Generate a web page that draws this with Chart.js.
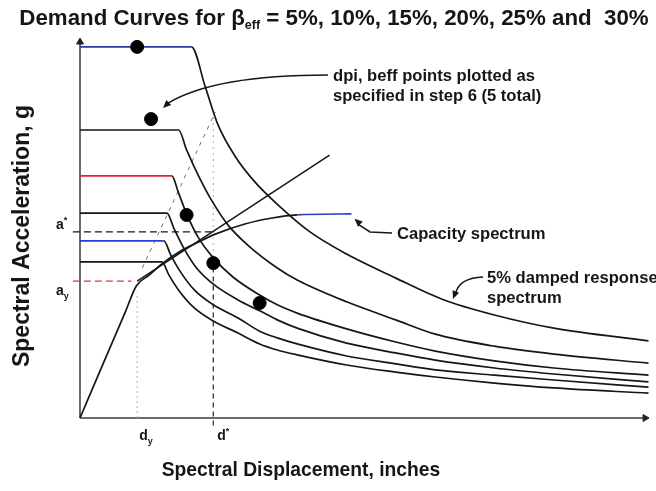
<!DOCTYPE html>
<html>
<head>
<meta charset="utf-8">
<script src="https://cdn.jsdelivr.net/npm/chart.js@4/dist/chart.umd.min.js"></script>
<style>
  html, body { margin: 0; padding: 0; background: #fff; }
  #wrap { width: 656px; height: 491px; }
</style>
</head>
<body>
<div id="wrap"><canvas id="c" width="656" height="491"></canvas></div>
<script>
// Demand curves: spectral displacement (in) and spectral acceleration (g)
const sd05 = [0, 3.92, 4.41, 4.86, 5.45, 6.15, 7.05, 8.09, 9.38, 11.11, 12.74, 14.58, 16.67, 20];
const sa05 = [0.987, 0.987, 0.880, 0.779, 0.697, 0.628, 0.561, 0.495, 0.436, 0.372, 0.316, 0.274, 0.239, 0.205];

const sd10 = [0, 3.47, 3.75, 4.17, 4.62, 5.21, 5.90, 6.94, 7.64, 9.38, 11.11, 12.50, 14.58, 16.67, 20];
const sa10 = [0.766, 0.766, 0.713, 0.644, 0.580, 0.513, 0.460, 0.399, 0.367, 0.309, 0.261, 0.223, 0.191, 0.170, 0.146];

const sd15 = [0, 3.23, 3.47, 3.75, 4.17, 4.69, 5.38, 6.32, 6.94, 7.64, 9.38, 11.11, 12.50, 14.58, 16.67, 20];
const sa15 = [0.644, 0.644, 0.598, 0.543, 0.479, 0.426, 0.375, 0.327, 0.301, 0.279, 0.237, 0.202, 0.178, 0.152, 0.133, 0.114];

const sd20 = [0, 3.06, 3.30, 3.65, 4.10, 4.69, 5.56, 6.32, 6.94, 7.64, 9.38, 11.11, 12.50, 14.58, 16.67, 20];
const sa20 = [0.545, 0.545, 0.505, 0.452, 0.399, 0.356, 0.314, 0.285, 0.261, 0.239, 0.199, 0.173, 0.154, 0.133, 0.117, 0.096];

const sd25 = [0, 2.95, 3.19, 3.54, 4.03, 4.69, 5.56, 6.32, 6.94, 7.64, 9.38, 11.11, 12.50, 14.58, 16.67, 20];
const sa25 = [0.471, 0.471, 0.434, 0.388, 0.340, 0.301, 0.266, 0.231, 0.213, 0.197, 0.165, 0.144, 0.128, 0.114, 0.101, 0.082];

const sd30 = [0, 2.88, 3.13, 3.47, 3.99, 4.69, 5.56, 6.32, 6.94, 7.64, 9.38, 11.11, 12.50, 14.58, 16.67, 20];
const sa30 = [0.415, 0.415, 0.380, 0.340, 0.295, 0.258, 0.226, 0.197, 0.181, 0.168, 0.141, 0.122, 0.109, 0.093, 0.080, 0.066];

// Capacity spectrum: elastic branch, knee and plateau
const capSd = [0, 0.80, 1.60, 1.98, 2.43, 2.88, 3.47, 4.17, 4.76, 5.80, 6.77, 7.64, 9.55];
const capSa = [0, 0.142, 0.283, 0.351, 0.380, 0.410, 0.441, 0.468, 0.489, 0.516, 0.532, 0.540, 0.543];

// Post-yield branch of the bilinear representation, starting at (dy, ay)
const bilinSd = [2.01, 8.78];
const bilinSa = [0.364, 0.699];

// Construction line with the initial stiffness
const constrSd = [2.19, 4.76];
const constrSa = [0.399, 0.814];

// dpi, beff points (5 total)
const dpiSd = [2.01, 2.50, 3.75, 4.69, 6.32];
const dpiSa = [0.987, 0.795, 0.540, 0.412, 0.306];

// Yield point and performance point
const yieldPt = { d: 2.01, a: 0.364 };
const perfPt = { d: 4.69, a: 0.495 };

// Axis extents
const sdMax = 20;
const saMax = 1.0;

const ink = '#161616';
const pts = (xs, ys) => xs.map((x, i) => ({ x, y: ys[i] }));
const flatColor = (flat, other) => ({
  borderColor: c => (c.p0.parsed.y === c.p1.parsed.y ? flat : other)
});

function curve(xs, ys, extra) {
  return Object.assign({
    data: pts(xs, ys),
    showLine: true,
    borderColor: ink,
    borderWidth: 1.7,
    pointRadius: 0,
    cubicInterpolationMode: 'monotone',
    clip: false
  }, extra || {});
}

function straight(xs, ys, extra) {
  return curve(xs, ys, Object.assign({ cubicInterpolationMode: 'default', tension: 0 }, extra || {}));
}

const datasets = [
  // dpi, beff points
  {
    data: pts(dpiSd, dpiSa),
    pointRadius: 6.5,
    pointBackgroundColor: '#000',
    pointBorderColor: '#000',
    showLine: false,
    clip: false
  },
  // axis arrowheads
  {
    data: [{ x: 0, y: saMax }, { x: sdMax - 0.12, y: 0 }],
    pointStyle: 'triangle',
    rotation: [0, 90],
    pointRadius: 4,
    pointBackgroundColor: '#222',
    pointBorderColor: '#222',
    showLine: false,
    clip: false
  },
  curve(sd05, sa05, { segment: flatColor('#2e3a9e', ink) }),
  curve(sd10, sa10),
  curve(sd15, sa15, { segment: flatColor('#e2262c', ink) }),
  curve(sd20, sa20),
  curve(sd25, sa25, { segment: flatColor('#2340d8', ink) }),
  curve(sd30, sa30),
  curve(capSd, capSa, {
    segment: { borderColor: c => (c.p0.parsed.x >= capSd[capSd.length - 2] ? '#2c3cc0' : ink) }
  }),
  straight(bilinSd, bilinSa, { borderWidth: 1.5 }),
  straight(constrSd, constrSa, { borderColor: '#707070', borderWidth: 1, borderDash: [4, 5] }),
  // a* and ay reference lines
  straight([-0.25, perfPt.d], [perfPt.a, perfPt.a], { borderDash: [7, 4], borderWidth: 1.4 }),
  straight([-0.25, yieldPt.d - 0.2], [yieldPt.a, yieldPt.a], { borderColor: '#e8323c', borderDash: [7, 4], borderWidth: 1.4 }),
  // dy and d* reference lines
  straight([yieldPt.d, yieldPt.d], [0, yieldPt.a - 0.03], { borderColor: '#a8a8b8', borderDash: [2, 3], borderWidth: 1 }),
  straight([perfPt.d, perfPt.d], [-0.02, dpiSa[3]], { borderColor: '#333', borderDash: [5, 4], borderWidth: 1.3 }),
  straight([perfPt.d, perfPt.d], [dpiSa[3], constrSa[1] - 0.01], { borderColor: '#a8a8bc', borderDash: [2, 4], borderWidth: 1 }),
  // axes
  straight([0, 0], [0, saMax], { borderColor: '#3a3a3a', borderWidth: 1.5 }),
  straight([0, sdMax - 0.15], [0, 0], { borderColor: '#3a3a3a', borderWidth: 1.5 })
];

function runsWidth(ctx, runs) {
  let w = 0;
  runs.forEach(r => { ctx.font = r.f; w += ctx.measureText(r.t).width; });
  return w;
}
function drawRuns(ctx, runs, x, y, align) {
  let cx = x;
  if (align === 'center') cx = x - runsWidth(ctx, runs) / 2;
  runs.forEach(r => {
    ctx.font = r.f;
    ctx.fillText(r.t, cx, y + (r.dy || 0));
    cx += ctx.measureText(r.t).width;
  });
}
function arrowHead(ctx, x, y, ang, len, half) {
  ctx.beginPath();
  ctx.moveTo(x, y);
  ctx.lineTo(x - len * Math.cos(ang) + half * Math.sin(ang), y - len * Math.sin(ang) - half * Math.cos(ang));
  ctx.lineTo(x - len * Math.cos(ang) - half * Math.sin(ang), y - len * Math.sin(ang) + half * Math.cos(ang));
  ctx.closePath();
  ctx.fill();
}

const FAM = '"Liberation Sans", Arial, Helvetica, sans-serif';
const B = s => 'bold ' + s + 'px ' + FAM;

const overlay = {
  id: 'overlay',
  afterDatasetsDraw(chart) {
    const ctx = chart.ctx;
    const X = v => chart.scales.x.getPixelForValue(v);
    const Y = v => chart.scales.y.getPixelForValue(v);
    ctx.save();
    ctx.fillStyle = ink;
    ctx.strokeStyle = ink;
    ctx.textBaseline = 'alphabetic';

    // Title
    drawRuns(ctx, [
      { t: 'Demand Curves for β', f: B(22.3) },
      { t: 'eff', f: B(12.5), dy: 4 },
      { t: ' = 5%, 10%, 15%, 20%, 25% and  30%', f: B(22.3) }
    ], 334, 25, 'center');

    // Axis titles
    ctx.textAlign = 'center';
    ctx.textBaseline = 'middle';
    ctx.font = B(19.3);
    ctx.fillText('Spectral Displacement, inches', 301, 471);
    ctx.save();
    ctx.translate(23, 236);
    ctx.rotate(-Math.PI / 2);
    ctx.font = B(23);
    ctx.fillText('Spectral Acceleration, g', 0, 0);
    ctx.restore();

    // Axis point labels
    ctx.textAlign = 'left';
    ctx.textBaseline = 'alphabetic';
    const ya = Y(perfPt.a), yy = Y(yieldPt.a);
    drawRuns(ctx, [{ t: 'a', f: B(14) }, { t: '*', f: B(9), dy: -6 }], 56, ya - 3);
    drawRuns(ctx, [{ t: 'a', f: B(14) }, { t: 'y', f: B(9), dy: 4 }], 56, yy + 14);
    const axisY = Y(0);
    drawRuns(ctx, [{ t: 'd', f: B(14) }, { t: 'y', f: B(9), dy: 4 }], X(yieldPt.d) + 2, axisY + 22);
    drawRuns(ctx, [{ t: 'd', f: B(14) }, { t: '*', f: B(9), dy: -6 }], X(perfPt.d) + 4, axisY + 22);

    // Annotation: dpi, beff points
    ctx.font = B(16.6);
    ctx.fillText('dpi, beff points plotted as', 333, 81);
    ctx.fillText('specified in step 6 (5 total)', 333, 101);
    const d2x = X(dpiSd[1]), d2y = Y(dpiSa[1]);
    const tipX = d2x + 12, tipY = d2y - 11;
    ctx.lineWidth = 1.5;
    ctx.beginPath();
    ctx.moveTo(328, 75);
    ctx.bezierCurveTo(255, 75, 200, 84, tipX + 5, tipY - 5);
    ctx.stroke();
    arrowHead(ctx, tipX, tipY, Math.atan2(6, -6), 8, 3.5);

    // Annotation: capacity spectrum
    ctx.fillText('Capacity spectrum', 397, 239);
    const cx = X(capSd[capSd.length - 1]) + 3, cy = Y(capSa[capSa.length - 1]) + 5;
    ctx.beginPath();
    ctx.moveTo(392, 233);
    ctx.lineTo(370, 232);
    ctx.lineTo(cx + 3, cy + 5);
    ctx.stroke();
    arrowHead(ctx, cx, cy, Math.atan2(-9, -10), 8, 3.5);

    // Annotation: 5% damped response spectrum
    ctx.fillText('5% damped response', 487, 283);
    ctx.fillText('spectrum', 487, 303);
    ctx.beginPath();
    ctx.moveTo(483, 277);
    ctx.quadraticCurveTo(460, 278, 456, 292);
    ctx.stroke();
    arrowHead(ctx, 453, 299, Math.atan2(8, -3), 8, 3.5);

    ctx.restore();
  }
};

new Chart(document.getElementById('c'), {
  type: 'scatter',
  data: { datasets },
  options: {
    responsive: false,
    animation: false,
    events: [],
    layout: { padding: { left: 80, right: 0, top: 42, bottom: 73 } },
    plugins: { legend: { display: false }, tooltip: { enabled: false }, title: { display: false } },
    scales: {
      x: { type: 'linear', min: 0, max: sdMax, display: false },
      y: { type: 'linear', min: 0, max: saMax, display: false }
    }
  },
  plugins: [overlay]
});
</script>
</body>
</html>
